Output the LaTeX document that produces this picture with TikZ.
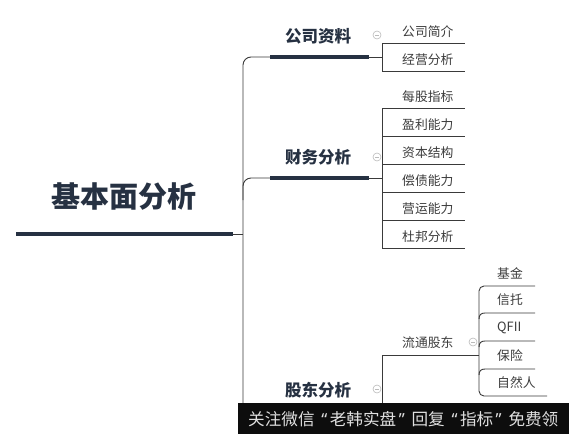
\documentclass[tikz,border=0pt]{standalone}
\usepackage{fontspec}
\setmainfont{Noto Sans CJK SC}
\newfontfamily\latinq{Noto Sans}
\definecolor{navy}{HTML}{263142}
\definecolor{linec}{HTML}{3A3A3A}
\definecolor{txtc}{HTML}{3C3C3C}
\definecolor{circc}{HTML}{BBBBBB}
\newcommand{\narrowq}[1]{\hspace*{2.5pt}{\latinq #1}\hspace*{2.5pt}}
\tikzset{
  conn/.style={draw=linec, line width=0.9pt},
  bar/.style={draw=navy, line width=4pt},
  roottext/.style={font=\fontsize{29}{32}\selectfont\bfseries, text=navy, inner sep=0pt},
  branchtext/.style={font=\fontsize{16.5}{19}\selectfont\bfseries, text=navy, inner sep=0pt, anchor=west},
  leaftext/.style={font=\fontsize{12.8}{15}\selectfont, text=txtc, inner sep=0pt, anchor=west},
  foldmark/.style={circle, draw=circc, fill=white, line width=0.6pt, minimum size=8pt, inner sep=0pt,
    path picture={\draw[circc, line width=0.6pt] ([xshift=-2pt]path picture bounding box.center) -- ([xshift=2pt]path picture bounding box.center);}},
}
\begin{document}
\begin{tikzpicture}[x=1pt,y=-1pt]
\useasboundingbox (0,0) rectangle (569,434);
\fill[white] (0,0) rectangle (569,434);

% root
\node[roottext] (root) at (124,197) {基本面分析};
\coordinate (rootL) at (16,234);
\coordinate (rootR) at (233,234);
\coordinate (trunkJ) at (243,234);
\draw[bar] (rootL) -- (rootR);
\draw[conn] (rootR) -- (trunkJ);

% trunk
\coordinate (trunkBot) at (243,410);
\coordinate (b1L) at (270,57);
\coordinate (b2L) at (270,178);
\draw[conn, rounded corners=8pt] (trunkBot) -- (243,57) -- (b1L);
\draw[conn, rounded corners=8pt] (243,200) -- (243,178) -- (b2L);

% branch 1
\node[branchtext] (b1) at (285,36) {公司资料};
\coordinate (b1R) at (369,57);
\coordinate (b1J) at (382,57);
\draw[bar] (b1L) -- (b1R);
\draw[conn] (b1R) -- (b1J);
\node[foldmark] (f1) at (377,35) {};
\draw[conn] (382,43) -- (382,71);
\foreach \t/\y in {公司简介/43, 经营分析/71}{
  \draw[conn] (382,\y) -- (465,\y);
  \node[leaftext] at (402,\y-11) {\t};
}

% branch 2
\node[branchtext] (b2) at (285,157) {财务分析};
\coordinate (b2R) at (369,178);
\coordinate (b2J) at (382,178);
\draw[bar] (b2L) -- (b2R);
\draw[conn] (b2R) -- (b2J);
\node[foldmark] (f2) at (377,157) {};
\draw[conn] (382,108) -- (382,248);
\foreach \t/\y in {每股指标/108, 盈利能力/136, 资本结构/164, 偿债能力/192, 营运能力/220, 杜邦分析/248}{
  \draw[conn] (382,\y) -- (465,\y);
  \node[leaftext] at (402,\y-11) {\t};
}

% branch 3
\node[branchtext] (b3) at (285,390) {股东分析};
\node[foldmark] (f3) at (377,389) {};
\coordinate (s1L) at (382,355);
\coordinate (s1R) at (479,355);
\draw[conn] (382,410) -- (s1L) -- (s1R);
\node[leaftext] (s1) at (402,343) {流通股东};
\node[foldmark] (f4) at (473,342) {};

% children of 流通股东
\draw[conn, rounded corners=5pt] (535,286) -- (479,286) -- (479,396) -- (547,396);
\foreach \y in {313, 341, 369}{
  \draw[conn] (479,\y+6) .. controls (479,\y+2) and (481,\y) .. (485,\y) -- (535,\y);
}
\foreach \t/\y in {基金/286, 信托/313, QFII/341, 保险/369, 自然人/396}{
  \node[leaftext] at (497,\y-13) {\t};
}

% banner
\fill[black!95] (238,403) rectangle (569,434);
\begin{scope}
\clip (238,403) rectangle (569,434);
\node[font=\fontsize{16.6}{18}\selectfont, text=white!88!black, inner sep=0pt, anchor=west] (banner) at (248,419) {关注微信\narrowq{ “}老韩实盘\narrowq{” }回复\narrowq{ “}指标\narrowq{” }免费领};
\end{scope}
\end{tikzpicture}
\end{document}
